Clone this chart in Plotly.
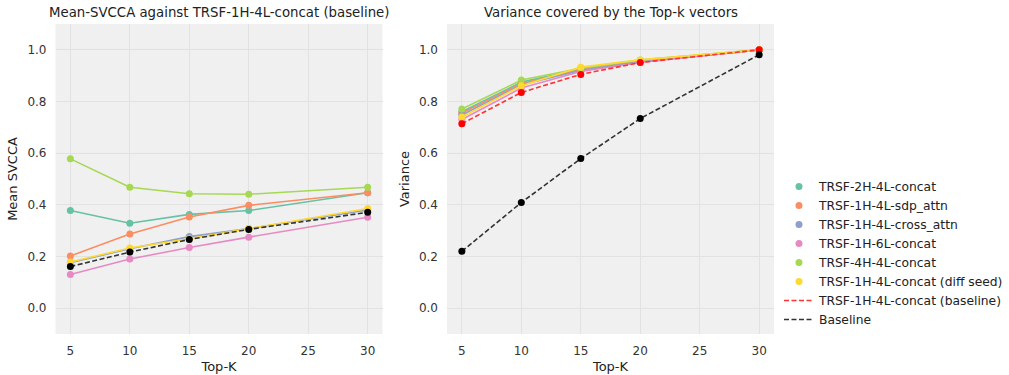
import plotly.graph_objects as go

topk = [5, 10, 15, 20, 30]

names = [
    "TRSF-2H-4L-concat",
    "TRSF-1H-4L-sdp_attn",
    "TRSF-1H-4L-cross_attn",
    "TRSF-1H-6L-concat",
    "TRSF-4H-4L-concat",
    "TRSF-1H-4L-concat (diff seed)",
]
colors = ["#66c2a5", "#fc8d62", "#8da0cb", "#e78ac3", "#a6d854", "#ffd92f"]

svcca_2h4l = [0.378, 0.329, 0.363, 0.378, 0.447]
svcca_sdp = [0.202, 0.287, 0.353, 0.398, 0.447]
svcca_cross = [0.176, 0.230, 0.277, 0.308, 0.380]
svcca_6l = [0.130, 0.190, 0.235, 0.275, 0.352]
svcca_4h4l = [0.578, 0.468, 0.443, 0.441, 0.468]
svcca_seed = [0.179, 0.233, 0.269, 0.308, 0.386]
svcca_random = [0.161, 0.217, 0.266, 0.305, 0.371]

var_2h4l = [0.760, 0.875, 0.925, 0.957, 1.0]
var_sdp = [0.755, 0.870, 0.922, 0.955, 1.0]
var_cross = [0.748, 0.865, 0.920, 0.954, 1.0]
var_6l = [0.730, 0.852, 0.916, 0.951, 1.0]
var_4h4l = [0.771, 0.883, 0.929, 0.961, 1.0]
var_seed = [0.740, 0.861, 0.933, 0.961, 1.0]
var_base = [0.714, 0.835, 0.905, 0.951, 1.0]
var_random = [0.220, 0.409, 0.579, 0.734, 0.981]

svcca = [svcca_2h4l, svcca_sdp, svcca_cross, svcca_6l, svcca_4h4l, svcca_seed]
variance = [var_2h4l, var_sdp, var_cross, var_6l, var_4h4l, var_seed]

FONT = "DejaVu Sans"
DASH = "5px,2.5px"
fig = go.Figure()

for n, c, s, v in zip(names, colors, svcca, variance):
    fig.add_trace(go.Scatter(x=topk, y=s, mode="lines+markers", name=n,
                             line=dict(color=c, width=1.6), marker=dict(color=c, size=7),
                             showlegend=False, xaxis="x", yaxis="y"))
    fig.add_trace(go.Scatter(x=topk, y=v, mode="lines+markers", name=n,
                             line=dict(color=c, width=1.6), marker=dict(color=c, size=7),
                             showlegend=False, xaxis="x2", yaxis="y2"))

fig.add_trace(go.Scatter(x=topk, y=svcca_random, mode="lines+markers", name="Baseline",
                         line=dict(color="#333333", width=1.6, dash=DASH),
                         marker=dict(color="black", size=7), showlegend=False,
                         xaxis="x", yaxis="y"))
fig.add_trace(go.Scatter(x=topk, y=var_base, mode="lines+markers",
                         name="TRSF-1H-4L-concat (baseline)",
                         line=dict(color="#ff3333", width=1.6, dash=DASH),
                         marker=dict(color="red", size=7), showlegend=False,
                         xaxis="x2", yaxis="y2"))
fig.add_trace(go.Scatter(x=topk, y=var_random, mode="lines+markers", name="Baseline",
                         line=dict(color="#333333", width=1.6, dash=DASH),
                         marker=dict(color="black", size=7), showlegend=False,
                         xaxis="x2", yaxis="y2"))

# legend entries
for n, c in zip(names, colors):
    fig.add_trace(go.Scatter(x=[None], y=[None], mode="markers", name=n,
                             marker=dict(color=c, size=7), xaxis="x", yaxis="y"))
fig.add_trace(go.Scatter(x=[None], y=[None], mode="lines", name="TRSF-1H-4L-concat (baseline)",
                         line=dict(color="#ff3333", width=1.6, dash=DASH), xaxis="x", yaxis="y"))
fig.add_trace(go.Scatter(x=[None], y=[None], mode="lines", name="Baseline",
                         line=dict(color="#333333", width=1.6, dash=DASH), xaxis="x", yaxis="y"))

axis_common = dict(showgrid=True, gridcolor="#e2e2e2", gridwidth=1, zeroline=False,
                   showline=False, ticks="", automargin=False,
                   tickfont=dict(family=FONT, size=12, color="#333333"))
xt = dict(tickmode="array", tickvals=[5, 10, 15, 20, 25, 30], range=[3.75, 31.25],
          ticklabelstandoff=8)
yt = dict(tickmode="array", tickvals=[0, 0.2, 0.4, 0.6, 0.8, 1.0],
          ticktext=["0.0", "0.2", "0.4", "0.6", "0.8", "1.0"], range=[-0.1, 1.1],
          ticklabelstandoff=8)
ydom = [1 - 334 / 375, 1 - 24 / 375]
TF = dict(family=FONT, size=13, color="#222222")

fig.update_layout(
    width=1009, height=375,
    margin=dict(l=0, r=0, t=0, b=0),
    paper_bgcolor="white",
    plot_bgcolor="#f0f0f0",
    font=dict(family=FONT, size=12, color="#222222"),
    xaxis=dict(domain=[56 / 1009, 386 / 1009], anchor="y",
               title=dict(text="Top-K", font=TF, standoff=4), **xt, **axis_common),
    yaxis=dict(domain=ydom, anchor="x",
               title=dict(text="Mean SVCCA", font=TF, standoff=6), **yt, **axis_common),
    xaxis2=dict(domain=[451 / 1009, 781 / 1009], anchor="y2",
                title=dict(text="Top-K", font=TF, standoff=4), **xt, **axis_common),
    yaxis2=dict(domain=ydom, anchor="x2",
                title=dict(text="Variance", font=TF, standoff=6), **yt, **axis_common),
    legend=dict(x=786 / 1009, y=1 - 172 / 375, xanchor="left", yanchor="top",
                font=dict(family=FONT, size=12.3, color="#222222"),
                bgcolor="rgba(0,0,0,0)", tracegroupgap=0, itemwidth=30),
    annotations=[
        dict(text="Mean-SVCCA against TRSF-1H-4L-concat (baseline)", x=221 / 1009, y=1 - 13 / 375,
             xref="paper", yref="paper", showarrow=False, xanchor="center", yanchor="middle",
             font=dict(family=FONT, size=13.3, color="#222222")),
        dict(text="Variance covered by the Top-k vectors", x=616 / 1009, y=1 - 13 / 375,
             xref="paper", yref="paper", showarrow=False, xanchor="center", yanchor="middle",
             font=dict(family=FONT, size=13.3, color="#222222")),
    ],
)

fig.write_html("out.html", config={"displayModeBar": False},
               post_script="document.body.style.margin='0px';")
